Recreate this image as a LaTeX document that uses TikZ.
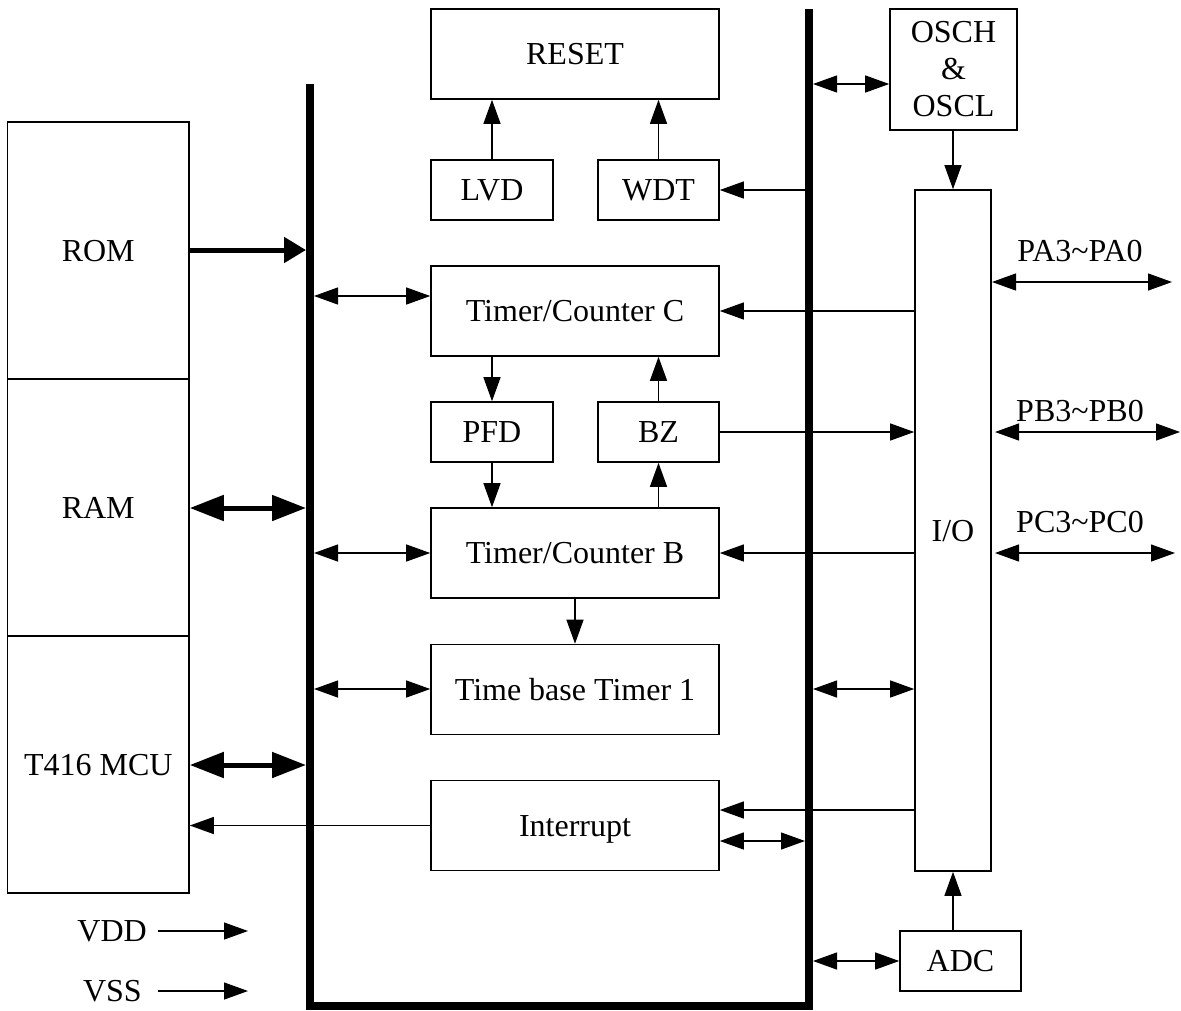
\documentclass[tikz,border=0pt]{standalone}
\usepackage{fontspec}
\setmainfont{Liberation Serif}
\usetikzlibrary{arrows.meta,calc}
\begin{document}
\begin{tikzpicture}[x=1pt,y=-1pt,
  font=\fontsize{32}{37}\selectfont,
  >={Triangle[length=24pt,width=17pt]},
  boxbase/.style={draw,line width=1.6pt,inner sep=0pt,align=center},
  blk/.style={boxbase,text height=21pt,text depth=0pt},
  conn/.style={line width=1.3pt},
  thickconn/.style={line width=5pt},
  lbl/.style={inner sep=0pt,text height=21pt,text depth=0pt},
  bus/.style={line width=8pt,line join=miter}]
\useasboundingbox (0,0) rectangle (1181,1010);

% left memory/CPU column
\node[blk,minimum width=181.5pt,minimum height=257pt] (rom) at (98.25,250.5) {ROM};
\node[blk,minimum width=181.5pt,minimum height=257pt] (ram) at (98.25,507.5) {RAM};
\node[blk,minimum width=181.5pt,minimum height=257pt] (mcu) at (98.25,764.5) {T416 MCU};

% centre blocks
\node[blk,minimum width=288pt,minimum height=90pt] (reset) at (575,54) {RESET};
\node[blk,minimum width=122pt,minimum height=60pt] (lvd) at (492,190) {LVD};
\node[blk,minimum width=121pt,minimum height=60pt] (wdt) at (658.5,190) {WDT};
\node[blk,minimum width=288pt,minimum height=90pt] (tcc) at (575,311) {Timer/Counter C};
\node[blk,minimum width=122pt,minimum height=60pt] (pfd) at (492,432) {PFD};
\node[blk,minimum width=121pt,minimum height=60pt] (bz) at (658.5,432) {BZ};
\node[blk,minimum width=288pt,minimum height=90pt] (tcb) at (575,553) {Timer/Counter B};
\node[blk,minimum width=288pt,minimum height=90pt] (tbt) at (575,689.5) {Time base Timer 1};
\node[blk,minimum width=288pt,minimum height=90pt] (intr) at (575,825.5) {Interrupt};

% right blocks
\node[boxbase,minimum width=127pt,minimum height=121pt] (osc) at (953.5,69.5) {OSCH\\\&\\OSCL};
\node[blk,minimum width=76pt,minimum height=681pt] (io) at (953,530.5) {I/O};
\node[blk,minimum width=121pt,minimum height=60pt] (adc) at (960.5,961) {ADC};

% buses
\coordinate (lbtop) at (310,84);
\coordinate (lbbot) at (310,1006);
\coordinate (rbbot) at (809,1006);
\coordinate (rbtop) at (809,9);
\draw[bus] (lbtop) -- (lbbot) -- (rbbot) -- (rbtop);

% bus attachment points
\coordinate (lbROM) at (306,250);
\coordinate (lbRAM) at (306,508);
\coordinate (lbMCU) at (306,765);
\coordinate (lb1) at (314,296);
\coordinate (lb2) at (314,553);
\coordinate (lb3) at (314,689);
\coordinate (rbWDT) at (805,190);
\coordinate (rbINT) at (805,841);
\coordinate (rbOSC) at (813,84);
\coordinate (rbTBT) at (813,689);
\coordinate (rbADC) at (813,961);

% thick memory links
\draw[thickconn,-{Triangle[length=22pt,width=25pt]}] (rom.east |- lbROM) -- (lbROM);
\draw[thickconn,{Triangle[length=34pt,width=25pt]}-{Triangle[length=34pt,width=25pt]}] (ram.east |- lbRAM) -- (lbRAM);
\draw[thickconn,{Triangle[length=34pt,width=25pt]}-{Triangle[length=34pt,width=25pt]}] (mcu.east |- lbMCU) -- (lbMCU);

% left bus to blocks
\draw[conn,<->] (lb1) -- (lb1 -| tcc.west);
\draw[conn,<->] (lb2) -- (lb2 -| tcb.west);
\draw[conn,<->] (lb3) -- (lb3 -| tbt.west);

% right bus links
\draw[conn,->] (rbWDT) -- (rbWDT -| wdt.east);
\draw[conn,<->] (rbINT) -- (rbINT -| intr.east);
\draw[conn,<->] (rbOSC) -- (rbOSC -| osc.west);
\draw[conn,<->] (rbTBT) -- (rbTBT -| io.west);
\draw[conn,<->] (rbADC) -- (rbADC -| adc.west);

% internal block links
\draw[conn,->] (lvd.north) -- (lvd.north |- reset.south);
\draw[conn,->] (wdt.north) -- (wdt.north |- reset.south);
\draw[conn,->] (pfd.north |- tcc.south) -- (pfd.north);
\draw[conn,->] (bz.north) -- (bz.north |- tcc.south);
\draw[conn,->] (pfd.south) -- (pfd.south |- tcb.north);
\draw[conn,->] (bz.south |- tcb.north) -- (bz.south);
\draw[conn,->] (tcb.south) -- (tbt.north);

% I/O links
\draw[conn,->] (osc.south -| io.north) -- (io.north);
\draw[conn,->] (adc.north -| io.south) -- (io.south);
\draw[conn,->] (io.west |- tcc.east) -- (tcc.east);
\draw[conn,->] (bz.east) -- (bz.east -| io.west);
\draw[conn,->] (io.west |- tcb.east) -- (tcb.east);
\draw[conn,->] (io.west |- 0,810) -- (intr.east |- 0,810);
\draw[conn,->] (intr.west) -- (intr.west -| mcu.east);

% ports
\coordinate (paL) at (992,282);
\coordinate (paR) at (1172,282);
\coordinate (pbL) at (995,432);
\coordinate (pbR) at (1180,432);
\coordinate (pcL) at (995,553);
\coordinate (pcR) at (1175,553);
\draw[conn,<->] (paL) -- (paR);
\draw[conn,<->] (pbL) -- (pbR);
\draw[conn,<->] (pcL) -- (pcR);
\node[lbl] (pa) at (1080,251) {PA3\textasciitilde PA0};
\node[lbl] (pb) at (1080,411) {PB3\textasciitilde PB0};
\node[lbl] (pc) at (1080,522) {PC3\textasciitilde PC0};

% power
\node[lbl,anchor=east] (vdd) at (147,931) {VDD};
\node[lbl,anchor=east] (vss) at (142,991) {VSS};
\coordinate (vddS) at (158,931);
\coordinate (vddE) at (248,931);
\coordinate (vssS) at (158,991);
\coordinate (vssE) at (248,991);
\draw[conn,->] (vddS) -- (vddE);
\draw[conn,->] (vssS) -- (vssE);
\end{tikzpicture}
\end{document}
